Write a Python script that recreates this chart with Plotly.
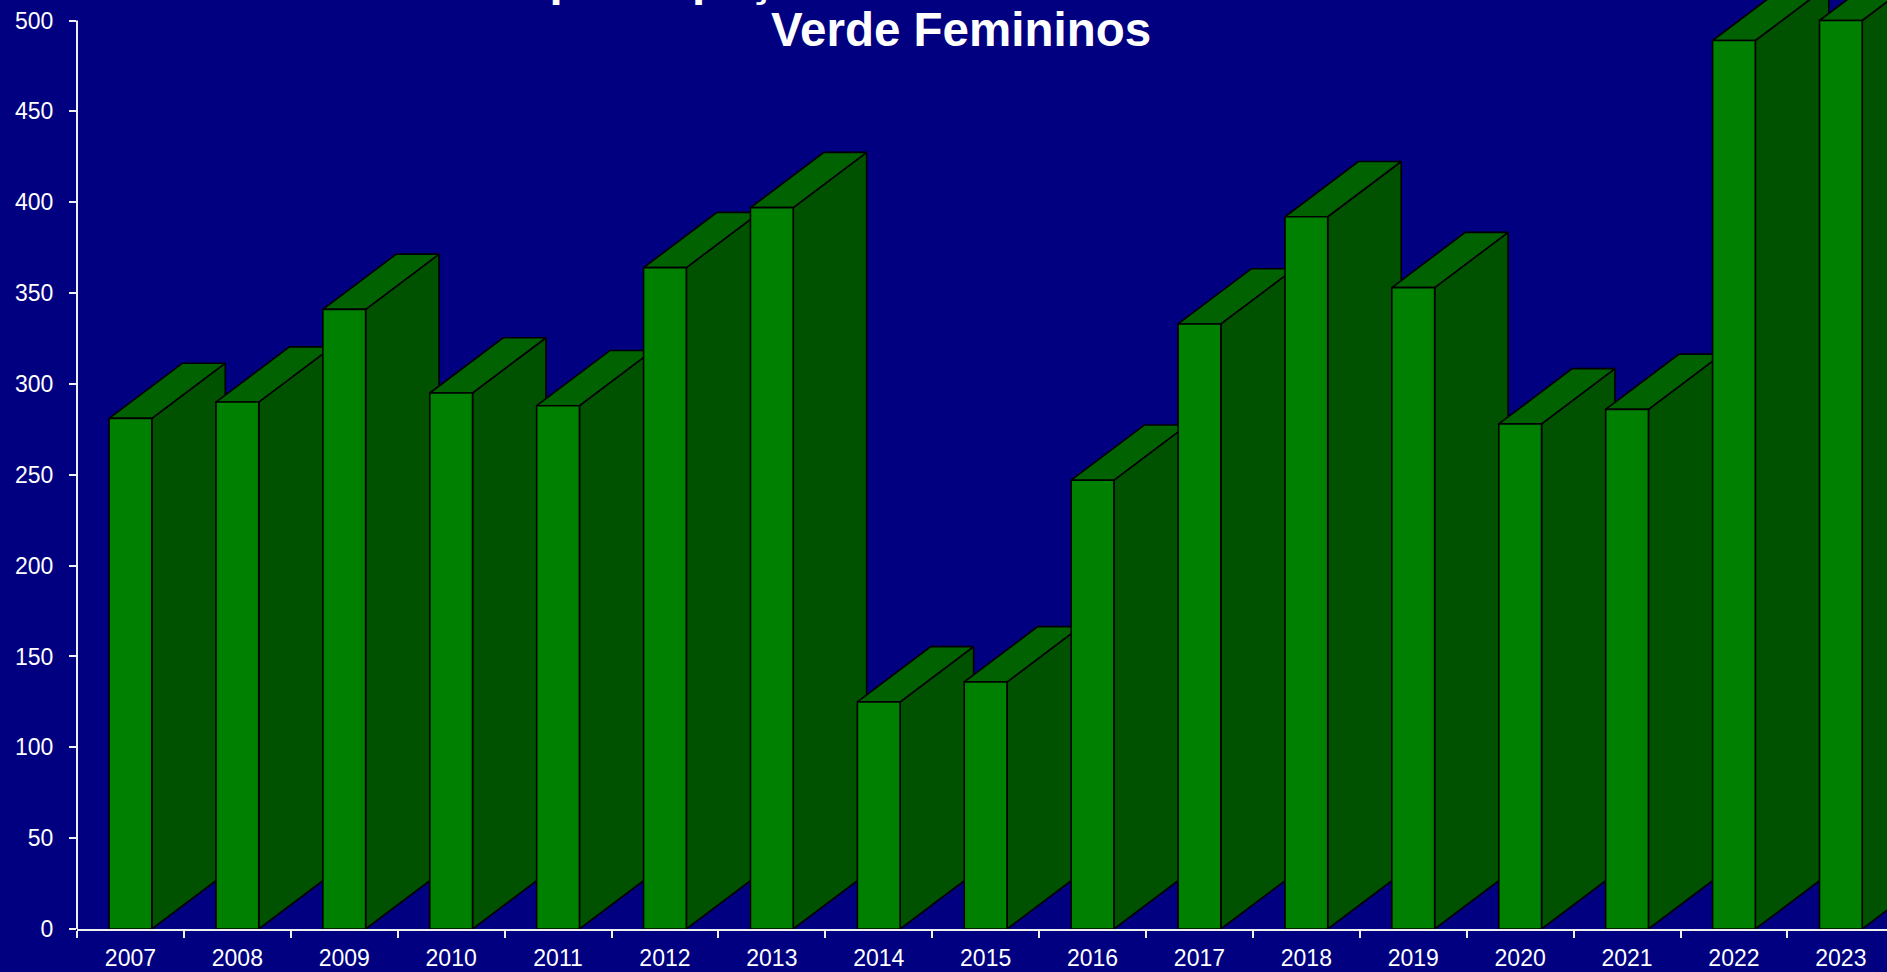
import plotly.graph_objects as go

years = ["2007", "2008", "2009", "2010", "2011", "2012", "2013", "2014", "2015",
         "2016", "2017", "2018", "2019", "2020", "2021", "2022", "2023"]
values = [281, 290, 341, 295, 288, 364, 397, 125, 136,
          247, 333, 392, 353, 278, 286, 489, 500]
y_ticks = [0, 50, 100, 150, 200, 250, 300, 350, 400, 450, 500]
title_line1 = "Taxa de participação nas Atividades do Escalão"
title_line2 = "Verde Femininos"

FRONT = "#008000"
SIDE = "#005100"
TOP = "#006200"
BG = "#000080"
HW = 0.2      # half width of front face (category units)
DX = 0.687    # depth offset in x (category units)
DY = 30.4     # depth offset in y (value units)

fig = go.Figure()
for i, v in enumerate(values):
    c = i
    side_x = [c + HW, c + HW + DX, c + HW + DX, c + HW, c + HW]
    side_y = [0, DY, v + DY, v, 0]
    top_x = [c - HW, c + HW, c + HW + DX, c - HW + DX, c - HW]
    top_y = [v, v, v + DY, v + DY, v]
    front_x = [c - HW, c + HW, c + HW, c - HW, c - HW]
    front_y = [0, 0, v, v, 0]
    for xs, ys, col in ((side_x, side_y, SIDE), (top_x, top_y, TOP), (front_x, front_y, FRONT)):
        fig.add_trace(go.Scatter(x=xs, y=ys, mode="lines", fill="toself",
                                 fillcolor=col, line=dict(color="black", width=1.6),
                                 hoverinfo="skip", showlegend=False))

W, H = 1887, 972
L, B = 77, 43
plot_w = W - L
cat_px = 106.9
x_max = -0.5 + plot_w / cat_px

fig.update_layout(
    template="none",
    width=W, height=H,
    margin=dict(l=L, r=0, t=0, b=B, pad=0),
    paper_bgcolor=BG, plot_bgcolor=BG,
    showlegend=False,
    font=dict(family="Arial, Liberation Sans", color="white", size=23),
    xaxis=dict(range=[-0.5, x_max], tickmode="array",
               tickvals=list(range(len(years))), ticktext=years,
               ticks="", showgrid=False, zeroline=False,
               showline=True, linecolor="#f0f0f0", linewidth=2,
               tickfont=dict(size=23, color="white"), automargin=False,
               ticklabelstandoff=7,
               minor=dict(tickmode="linear", tick0=-0.5, dtick=1, ticks="outside",
                          ticklen=7, tickwidth=1.5, tickcolor="#f0f0f0", showgrid=False)),
    yaxis=dict(range=[0, 929 / 1.817], tickmode="array", tickvals=y_ticks,
               ticks="outside", ticklen=7, tickwidth=1.5, tickcolor="#f0f0f0",
               showgrid=False, zeroline=False, showline=False,
               tickfont=dict(size=23, color="white"), automargin=False,
               ticklabelstandoff=11),
    shapes=[dict(type="line", xref="paper", yref="y", x0=0, x1=0, y0=0, y1=500,
                 line=dict(color="#f0f0f0", width=2), layer="above")],
    annotations=[
        dict(text="<b>" + title_line2 + "</b>", xref="paper", yref="paper",
             x=(961 - L) / plot_w, y=1 - 30 / 929, xanchor="center", yanchor="middle",
             showarrow=False, font=dict(size=47.5, color="white", family="Arial, Liberation Sans")),
        dict(text="<b>" + title_line1 + "</b>", xref="paper", yref="paper",
             x=(361 - L) / plot_w, y=1 + 22 / 929, xanchor="left", yanchor="middle",
             showarrow=False, font=dict(size=47.5, color="white", family="Arial, Liberation Sans")),
    ],
)

fig.write_html("out.html",
               config={"displayModeBar": False},
               post_script="document.body.style.margin='0';"
                           "document.body.style.background='#000080';"
                           "document.documentElement.style.overflow='hidden';")
